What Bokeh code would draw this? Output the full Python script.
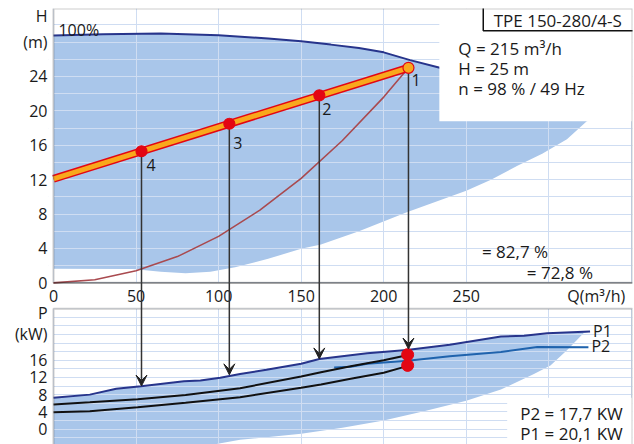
from bokeh.plotting import figure
from bokeh.models import (Range1d, FixedTicker, SingleIntervalTicker, Grid, BoxAnnotation,
                          Arrow, VeeHead, ColumnDataSource)
from bokeh.core.properties import value
from bokeh.embed import file_html
from bokeh.resources import INLINE

# ---------------- data ----------------
# 100 % speed pump curve (upper edge of the blue area), Q in m3/h, H in m
q_max = [0, 30, 65, 100, 130, 150, 168, 185, 200, 216, 234, 260, 290, 320, 330]
h_max = [28.76, 28.9, 29.0, 28.8, 28.4, 28.1, 27.7, 27.3, 26.8, 25.9, 25.0, 23.6, 21.8, 19.8, 19.1]
# lower edge of the blue area (top chart)
q_min = [0, 48, 65, 80, 95, 110, 130, 150, 162, 185, 214, 250, 265, 281, 296, 311, 323, 330]
h_min = [1.63, 1.6, 1.3, 1.12, 1.3, 1.8, 2.8, 3.95, 4.45, 6.0, 8.2, 10.7, 12.0, 13.6, 15.0, 16.7, 18.8, 19.1]
# system curve (brown)
q_par = [0, 25, 50, 75, 100, 125, 150, 175, 200, 215]
h_par = [0.0, 0.35, 1.4, 3.05, 5.4, 8.45, 12.15, 16.55, 21.6, 25.0]
# control curve (orange)
q_sys = [0, 215]
h_sys = [12.1, 25.0]
# operating points
pt_label = ["1", "2", "3", "4"]
pt_q = [215, 161, 106.5, 53.3]
pt_h = [25.0, 21.8, 18.5, 15.3]
pt_tip = [18.6, 16.3, 12.6, 10.0]          # P (kW) where the arrows end

# power curves (kW)
q_p1 = [0, 22, 38, 53, 79, 89, 101, 113, 129, 150, 161, 190, 214, 240, 271, 285, 299, 325]
p_p1 = [7.26, 8.0, 9.35, 9.95, 11.1, 11.3, 11.9, 12.8, 13.8, 15.2, 16.3, 17.6, 18.4, 19.6, 21.5, 21.7, 22.3, 22.7]
q_p2 = [170, 180, 190, 214.5, 240, 271, 293, 324]
p_p2 = [14.3, 14.5, 15.2, 15.9, 16.9, 17.9, 19.1, 19.0]
q_blk_hi = [0, 22, 51, 80, 113, 150, 162, 180, 200, 212]
p_blk_hi = [5.7, 6.2, 6.9, 7.9, 9.5, 12.2, 13.2, 14.6, 16.0, 17.0]
q_blk_lo = [0, 22, 51, 80, 113, 150, 162, 180, 200, 212]
p_blk_lo = [3.9, 4.14, 5.07, 6.1, 7.4, 9.6, 10.35, 11.7, 13.1, 14.4]
q_plow = [321, 311, 301, 291, 271, 250, 225, 200, 175, 150, 113, 97, 0]
p_plow = [22.3, 18.3, 14.8, 12.8, 9.2, 6.6, 4.2, 2.0, 0.3, -1.1, -2.5, -3.6, -8.0]
dot_q = [214.5, 214.5]
dot_p = [17.3, 14.8]

x_ticks = [0, 50, 100, 150, 200, 250]
x_title = "Q(m³/h)"
h_ticks = [0, 4, 8, 12, 16, 20, 24]
p_ticks = [0, 4, 8, 12, 16]
title = "TPE 150-280/4-S"
info_lines = ["Q = 215 m³/h", "H = 25 m", "n = 98 % / 49 Hz"]
eff_lines = ["= 82,7 %", "= 72,8 %"]
pow_lines = ["P2 = 17,7 KW", "P1 = 20,1 KW"]

# ---------------- style ----------------
FONT = "Open Sans"
FILL = "#a9c6ea"
GRID = "#cfddf2"
NAVY = "#27348b"
BLUE = "#1f63ad"
BROWN = "#a94a4f"
ORANGE = "#f9a81c"
RED = "#e30613"
TXT = "#1a1a1a"
FRAME = "#555555"

H_START, H_END = -18.8, 31.9
P_OFF = 34.0   # P value that sits on the H = 0 axis line
Q_START, Q_END = -3.03, 350.7

p = figure(width=634, height=444, output_backend="svg", toolbar_location=None,
           x_range=Range1d(Q_START, Q_END), y_range=Range1d(H_START, H_END),
           x_axis_location=None, min_border_left=48, min_border_right=2,
           min_border_top=8, min_border_bottom=0, outline_line_color=None,
           background_fill_color="white", border_fill_color="white")
p.extra_y_ranges = {"P": Range1d(2 * H_START + P_OFF, 2 * H_END + P_OFF)}
p.grid.visible = False

# left axis carries both panels' labels
ax = p.yaxis[0]
hp = lambda v: (v - P_OFF) / 2.0
ticks = list(h_ticks) + [28, 31] + [hp(t) for t in p_ticks] + [hp(22), hp(27)]
ov = {t: str(t) for t in h_ticks}
ov[28] = "(m)"
ov[31] = "H"
for t in p_ticks:
    ov[hp(t)] = str(t)
ov[hp(22)] = "(kW)"
ov[hp(27)] = "P"
ax.ticker = FixedTicker(ticks=ticks)
ax.major_label_overrides = ov
ax.axis_line_color = None
ax.major_tick_line_color = None
ax.minor_tick_line_color = None
ax.major_tick_out = 0
ax.major_tick_in = 0
ax.major_label_text_font = FONT
ax.major_label_text_font_size = "16px"
ax.major_label_text_color = TXT
ax.major_label_standoff = 1

# filled operating areas (below grid)
p.patch(q_max + q_min[::-1], h_max + h_min[::-1], fill_color=FILL, line_color=None, level="image")
p.patch(q_p1 + q_plow, p_p1 + p_plow, fill_color=FILL, line_color=None, level="image", y_range_name="P")

for g in [Grid(dimension=0, ticker=SingleIntervalTicker(interval=50)),
          Grid(dimension=1, ticker=SingleIntervalTicker(interval=2), bounds=(0, 32)),
          Grid(dimension=1, y_range_name="P", ticker=SingleIntervalTicker(interval=2), bounds=(-4, 28))]:
    g.grid_line_color = GRID
    g.grid_line_width = 1
    p.add_layout(g)

# white strip left of Q = 0, white gap between panels, white box behind power text
p.quad(left=[-10], right=[0], bottom=[-40], top=[40], fill_color="white", line_color=None)
p.quad(left=[-10], right=[400], bottom=[-3], top=[0], fill_color="white", line_color=None)
p.quad(left=[274.8], right=[400], bottom=[-20], top=[7.26], fill_color="white",
       line_color=None, y_range_name="P")

# ---- top panel
p.line(q_max, h_max, line_color=NAVY, line_width=2)
p.line(q_par, h_par, line_color=BROWN, line_width=1.6)
src_pt = ColumnDataSource(dict(q=pt_q, h=pt_h, base=[0] * len(pt_q), top=[P_OFF] * len(pt_q),
                               tip=pt_tip, lab=pt_label,
                               fc=[ORANGE, RED, RED, RED],
                               dx=[3, 3, 4, 5], dy=[12, 14, 19, 14]))
p.segment(x0="q", y0="h", x1="q", y1="base", source=src_pt, line_color="#333333", line_width=1.5)
p.line(q_sys, h_sys, line_color=RED, line_width=8)
p.line(q_sys, h_sys, line_color=ORANGE, line_width=5)
p.scatter("q", "h", source=src_pt, size=11, fill_color="fc", line_color=RED, line_width=1.2)
p.text("q", "h", text="lab", source=src_pt, x_offset="dx", y_offset="dy",
       text_font=value(FONT), text_font_size="16px", text_color=TXT,
       text_align="left", text_baseline="middle")

# info box
p.quad(left=[233.7], right=[400], bottom=[18.8], top=[40], fill_color="white", line_color=None)
p.quad(left=[260.3], right=[400], bottom=[29.3], top=[40], fill_color="white",
       line_color="#111111", line_width=1.5)
p.text([305.4], [30.5], text=[title], text_font=value(FONT), text_font_size="17px",
       text_color=TXT, text_align="center", text_baseline="middle")
p.text([245.2] * 3, [27.2, 24.9, 22.6], text=info_lines, text_font=value(FONT),
       text_font_size="17px", text_color=TXT, text_align="left", text_baseline="middle")
p.text([3], [29.45], text=["100%"], text_font=value(FONT), text_font_size="16px",
       text_color=TXT, text_align="left", text_baseline="middle")
p.text([259.5, 286.7], [3.67, 1.23], text=eff_lines, text_font=value(FONT),
       text_font_size="17px", text_color=TXT, text_align="left", text_baseline="middle")

# ---- bottom panel
p.line(q_p1, p_p1, line_color=NAVY, line_width=2, y_range_name="P")
p.line(q_p2, p_p2, line_color=BLUE, line_width=2, y_range_name="P")
p.line(q_blk_hi, p_blk_hi, line_color="#111111", line_width=2, y_range_name="P")
p.line(q_blk_lo, p_blk_lo, line_color="#111111", line_width=2, y_range_name="P")
p.scatter(dot_q, dot_p, size=12, fill_color=RED, line_color=RED, y_range_name="P")
p.text([q_p1[-1], q_p2[-1]], [p_p1[-1], p_p2[-1] + 0.2], text=["P1", "P2"], x_offset=3,
       text_font=value(FONT), text_font_size="16px", text_color=TXT,
       text_align="left", text_baseline="middle", y_range_name="P")
p.text([282.7, 282.7], [3.5, -1.1], text=pow_lines, text_font=value(FONT),
       text_font_size="17px", text_color=TXT, text_align="left", text_baseline="middle",
       y_range_name="P")

# x tick labels in the gap
p.text(x_ticks, [-1.5] * len(x_ticks), text=[str(v) for v in x_ticks], text_font=value(FONT),
       text_font_size="16px", text_color=TXT, text_align="center", text_baseline="middle")
p.text([346.3], [-1.5], text=[x_title], text_font=value(FONT), text_font_size="16px",
       text_color=TXT, text_align="right", text_baseline="middle")

# frames and the Q axis line
p.add_layout(BoxAnnotation(left=0, right=Q_END, bottom=0, top=H_END, fill_color=None,
                           line_color=FRAME, line_width=2))
p.add_layout(BoxAnnotation(left=0, right=Q_END, bottom=-20, top=28, fill_color=None,
                           line_color=FRAME, line_width=2, y_range_name="P"))
p.add_layout(BoxAnnotation(left=0, right=Q_END, bottom=0, top=0, fill_color=None,
                           line_color="#000000", line_width=1.6))

# arrows crossing into the power panel
p.add_layout(Arrow(source=src_pt, x_start="q", y_start="top", x_end="q", y_end="tip",
                   y_range_name="P", line_color="#333333", line_width=1.5,
                   end=VeeHead(size=11, fill_color="#222222", line_color="#222222")))

open("out.html", "w").write(file_html(p, INLINE))
